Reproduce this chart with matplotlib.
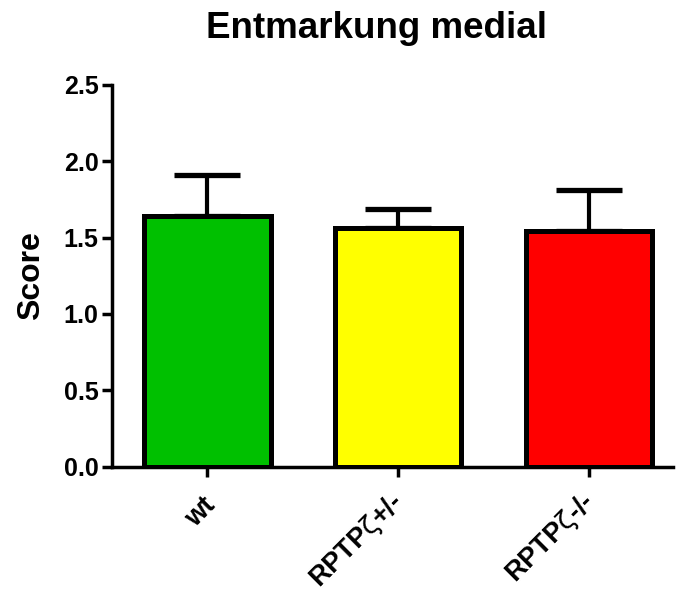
import matplotlib
matplotlib.use("Agg")
import matplotlib.pyplot as plt
import matplotlib.transforms as mtransforms
import numpy as np

categories = ["wt", "RPTP$\\zeta$+/-", "RPTP$\\zeta$-/-"]
means = [1.643, 1.562, 1.545]
errors = [0.264, 0.124, 0.266]
colors = ["#00C000", "#FFFF00", "#FF0000"]
yticks = [0.0, 0.5, 1.0, 1.5, 2.0, 2.5]

plt.rcParams['font.family'] = ['Liberation Sans', 'DejaVu Sans']
plt.rcParams['mathtext.fontset'] = 'custom'
plt.rcParams['mathtext.rm'] = 'DejaVu Sans'
plt.rcParams['mathtext.it'] = 'DejaVu Sans'
plt.rcParams['mathtext.default'] = 'rm'

fig = plt.figure(figsize=(6.76, 5.95), dpi=100)
ax = fig.add_axes([111.7/676, 1-466.7/595, (673-111.7)/676, (466.7-84.7)/595])

x = np.arange(len(categories))
ax.bar(x, means, width=0.664, color=colors, edgecolor="black", linewidth=3.6, zorder=2)
ax.errorbar(x, means, yerr=[np.zeros(len(means)), errors], fmt="none", ecolor="black",
            elinewidth=3.0, capsize=24, capthick=3.8, zorder=1)

ax.set_xlim(-0.5, 2.44)
ax.set_ylim(0, 2.5)
ax.set_yticks(yticks)
ax.set_yticklabels([f"{v:.1f}" for v in yticks], fontsize=18, fontweight="bold")
ax.set_xticks(x)
ax.set_xticklabels([""] * len(categories))
offsets = [(-5, -26), (-9, -21), (-9, -21)]
for xi, lab, (dx, dy) in zip(x, categories, offsets):
    off = mtransforms.ScaledTranslation(dx/100, dy/100, fig.dpi_scale_trans)
    ax.text(xi, 0, lab, transform=ax.get_xaxis_transform() + off,
            rotation=45, ha="right", va="top", rotation_mode="anchor",
            fontsize=19.5, fontweight="bold", clip_on=False)
for s in ["top", "right"]:
    ax.spines[s].set_visible(False)
for s in ["left", "bottom"]:
    ax.spines[s].set_linewidth(2.5)
ax.tick_params(axis="both", width=2.5, length=7.5, pad=2)
ax.set_ylabel("Score", fontsize=23, fontweight="bold", labelpad=13)

fig.text(376.5/676, 1-29/595, "Entmarkung medial", ha="center", va="center",
         fontsize=26.5, fontweight="bold")

fig.savefig("out.png", dpi=100)
